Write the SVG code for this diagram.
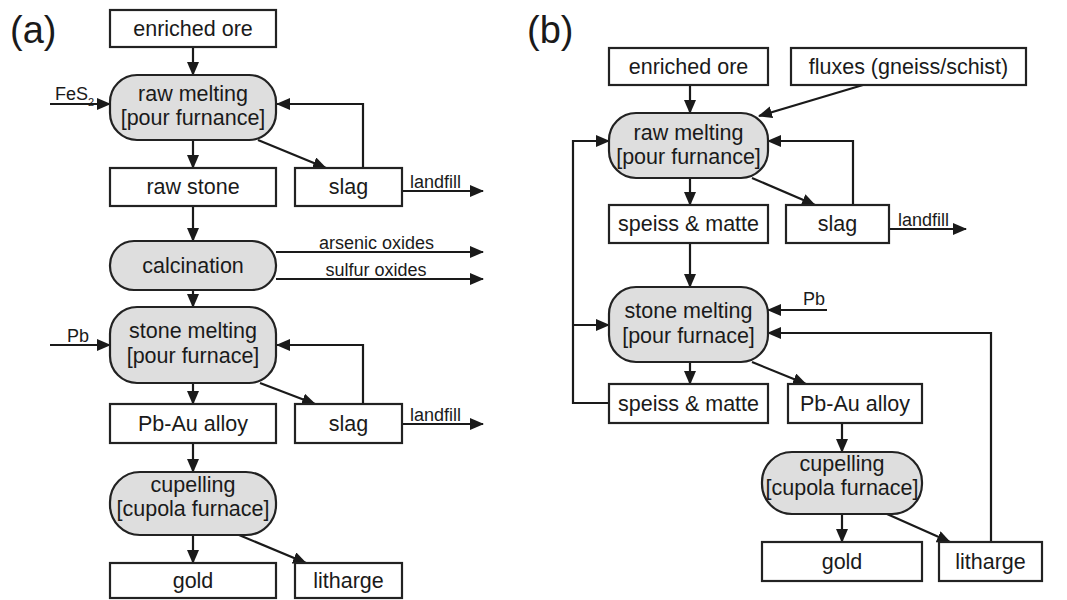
<svg xmlns="http://www.w3.org/2000/svg" width="1067" height="600" viewBox="0 0 1067 600">
<defs>
<marker id="ah" markerUnits="userSpaceOnUse" markerWidth="16" markerHeight="14" refX="13" refY="6" orient="auto">
<path d="M0,0 L14,6 L0,12 z" fill="#1a1a1a"/>
</marker>
<style>
.box{fill:#fff;stroke:#222;stroke-width:2.2}
.proc{fill:#dedede;stroke:#222;stroke-width:2.2}
.t{font-family:"Liberation Sans",Arial,sans-serif;font-size:21.5px;fill:#1a1a1a;text-anchor:middle}
.s{font-family:"Liberation Sans",Arial,sans-serif;font-size:18px;fill:#1a1a1a}
.p{font-family:"Liberation Sans",Arial,sans-serif;font-size:38px;fill:#1a1a1a}
.c path,.c line{fill:none;stroke:#1a1a1a;stroke-width:2.2;marker-end:url(#ah)}
</style>
</defs>
<rect width="1067" height="600" fill="#fff"/>
<text class="p" x="10" y="43">(a)</text>
<text class="p" x="527" y="43">(b)</text>

<g id="connectors-a" class="c">
<line x1="193" y1="47" x2="193" y2="75"/>
<line x1="50" y1="104" x2="110" y2="104"/>
<path d="M363,168 V104 H277"/>
<line x1="258" y1="140" x2="326" y2="168"/>
<line x1="193" y1="140" x2="193" y2="168"/>
<line x1="402" y1="191" x2="483" y2="191"/>
<line x1="193" y1="206" x2="193" y2="241"/>
<line x1="276" y1="252" x2="483" y2="252"/>
<line x1="276" y1="279" x2="483" y2="279"/>
<line x1="193" y1="290" x2="193" y2="307"/>
<line x1="50" y1="345" x2="110" y2="345"/>
<path d="M363,404 V345 H277"/>
<line x1="260" y1="383" x2="315" y2="404"/>
<line x1="193" y1="383" x2="193" y2="404"/>
<line x1="402" y1="424" x2="483" y2="424"/>
<line x1="193" y1="443" x2="193" y2="472"/>
<line x1="193" y1="535" x2="193" y2="563"/>
<line x1="239" y1="535" x2="306" y2="563"/>
</g>
<g id="labels-a">
<text class="s" x="55" y="100">FeS<tspan font-size="11" dy="6">2</tspan></text>
<text class="s" x="410" y="188">landfill</text>
<text class="s" x="376.5" y="249" text-anchor="middle">arsenic oxides</text>
<text class="s" x="376" y="276" text-anchor="middle">sulfur oxides</text>
<text class="s" x="67" y="342">Pb</text>
<text class="s" x="410" y="421">landfill</text>
</g>

<g id="a-enriched-ore"><rect class="box" x="110" y="10" width="166" height="37"/><text class="t" x="193" y="36">enriched ore</text></g>
<g id="a-raw-melting"><rect class="proc" x="110" y="75" width="166" height="65" rx="27"/><text class="t" x="193" y="101">raw melting</text><text class="t" x="193" y="125">[pour furnance]</text></g>
<g id="a-raw-stone"><rect class="box" x="110" y="168" width="166" height="38"/><text class="t" x="193" y="194">raw stone</text></g>
<g id="a-slag1"><rect class="box" x="295" y="168" width="107" height="38"/><text class="t" x="348.5" y="194">slag</text></g>
<g id="a-calcination"><rect class="proc" x="110" y="241" width="166" height="49" rx="24"/><text class="t" x="193" y="273">calcination</text></g>
<g id="a-stone-melting"><rect class="proc" x="110" y="307" width="166" height="76" rx="27"/><text class="t" x="193" y="338">stone melting</text><text class="t" x="193" y="363">[pour furnace]</text></g>
<g id="a-pbau"><rect class="box" x="110" y="404" width="166" height="39"/><text class="t" x="193" y="431">Pb-Au alloy</text></g>
<g id="a-slag2"><rect class="box" x="295" y="404" width="107" height="39"/><text class="t" x="348.5" y="431">slag</text></g>
<g id="a-cupelling"><rect class="proc" x="110" y="472" width="166" height="63" rx="30"/><text class="t" x="193" y="492">cupelling</text><text class="t" x="193" y="516">[cupola furnace]</text></g>
<g id="a-gold"><rect class="box" x="110" y="563" width="166" height="35"/><text class="t" x="193" y="588">gold</text></g>
<g id="a-litharge"><rect class="box" x="295" y="563" width="107" height="35"/><text class="t" x="348.5" y="588">litharge</text></g>

<g id="connectors-b" class="c">
<line x1="690" y1="85" x2="690" y2="113"/>
<line x1="863" y1="85" x2="759" y2="116"/>
<path d="M609,403 H573 V141 H609"/>
<line x1="573" y1="325" x2="609" y2="325"/>
<path d="M853,205 V141 H768"/>
<line x1="752" y1="178" x2="815" y2="205"/>
<line x1="690" y1="178" x2="690" y2="205"/>
<line x1="889" y1="229" x2="966" y2="229"/>
<line x1="690" y1="243" x2="690" y2="287"/>
<line x1="827" y1="310" x2="768" y2="310"/>
<path d="M991,542 V333 H768"/>
<line x1="690" y1="362" x2="690" y2="384"/>
<line x1="752" y1="362" x2="806" y2="384"/>
<line x1="842" y1="423" x2="842" y2="452"/>
<line x1="842" y1="514" x2="842" y2="542"/>
<line x1="887" y1="514" x2="950" y2="542"/>
</g>
<g id="labels-b">
<text class="s" x="898" y="226">landfill</text>
<text class="s" x="803" y="305">Pb</text>
</g>

<g id="b-enriched-ore"><rect class="box" x="609" y="48" width="159" height="37"/><text class="t" x="688.5" y="74">enriched ore</text></g>
<g id="b-fluxes"><rect class="box" x="791" y="48" width="235" height="37"/><text class="t" x="908.5" y="74">fluxes (gneiss/schist)</text></g>
<g id="b-raw-melting"><rect class="proc" x="609" y="113" width="159" height="65" rx="27"/><text class="t" x="688.5" y="140">raw melting</text><text class="t" x="688.5" y="164">[pour furnance]</text></g>
<g id="b-speiss1"><rect class="box" x="609" y="205" width="159" height="38"/><text class="t" x="688.5" y="231">speiss &amp; matte</text></g>
<g id="b-slag"><rect class="box" x="786" y="205" width="103" height="38"/><text class="t" x="837.5" y="231">slag</text></g>
<g id="b-stone-melting"><rect class="proc" x="609" y="287" width="159" height="75" rx="27"/><text class="t" x="688.5" y="318">stone melting</text><text class="t" x="688.5" y="343">[pour furnace]</text></g>
<g id="b-speiss2"><rect class="box" x="609" y="384" width="159" height="39"/><text class="t" x="688.5" y="411">speiss &amp; matte</text></g>
<g id="b-pbau"><rect class="box" x="788" y="384" width="134" height="39"/><text class="t" x="855" y="411">Pb-Au alloy</text></g>
<g id="b-cupelling"><rect class="proc" x="762" y="452" width="160" height="62" rx="30"/><text class="t" x="842" y="471">cupelling</text><text class="t" x="842" y="495">[cupola furnace]</text></g>
<g id="b-gold"><rect class="box" x="762" y="542" width="160" height="39"/><text class="t" x="842" y="569">gold</text></g>
<g id="b-litharge"><rect class="box" x="939" y="542" width="103" height="39"/><text class="t" x="990.5" y="569">litharge</text></g>
</svg>
